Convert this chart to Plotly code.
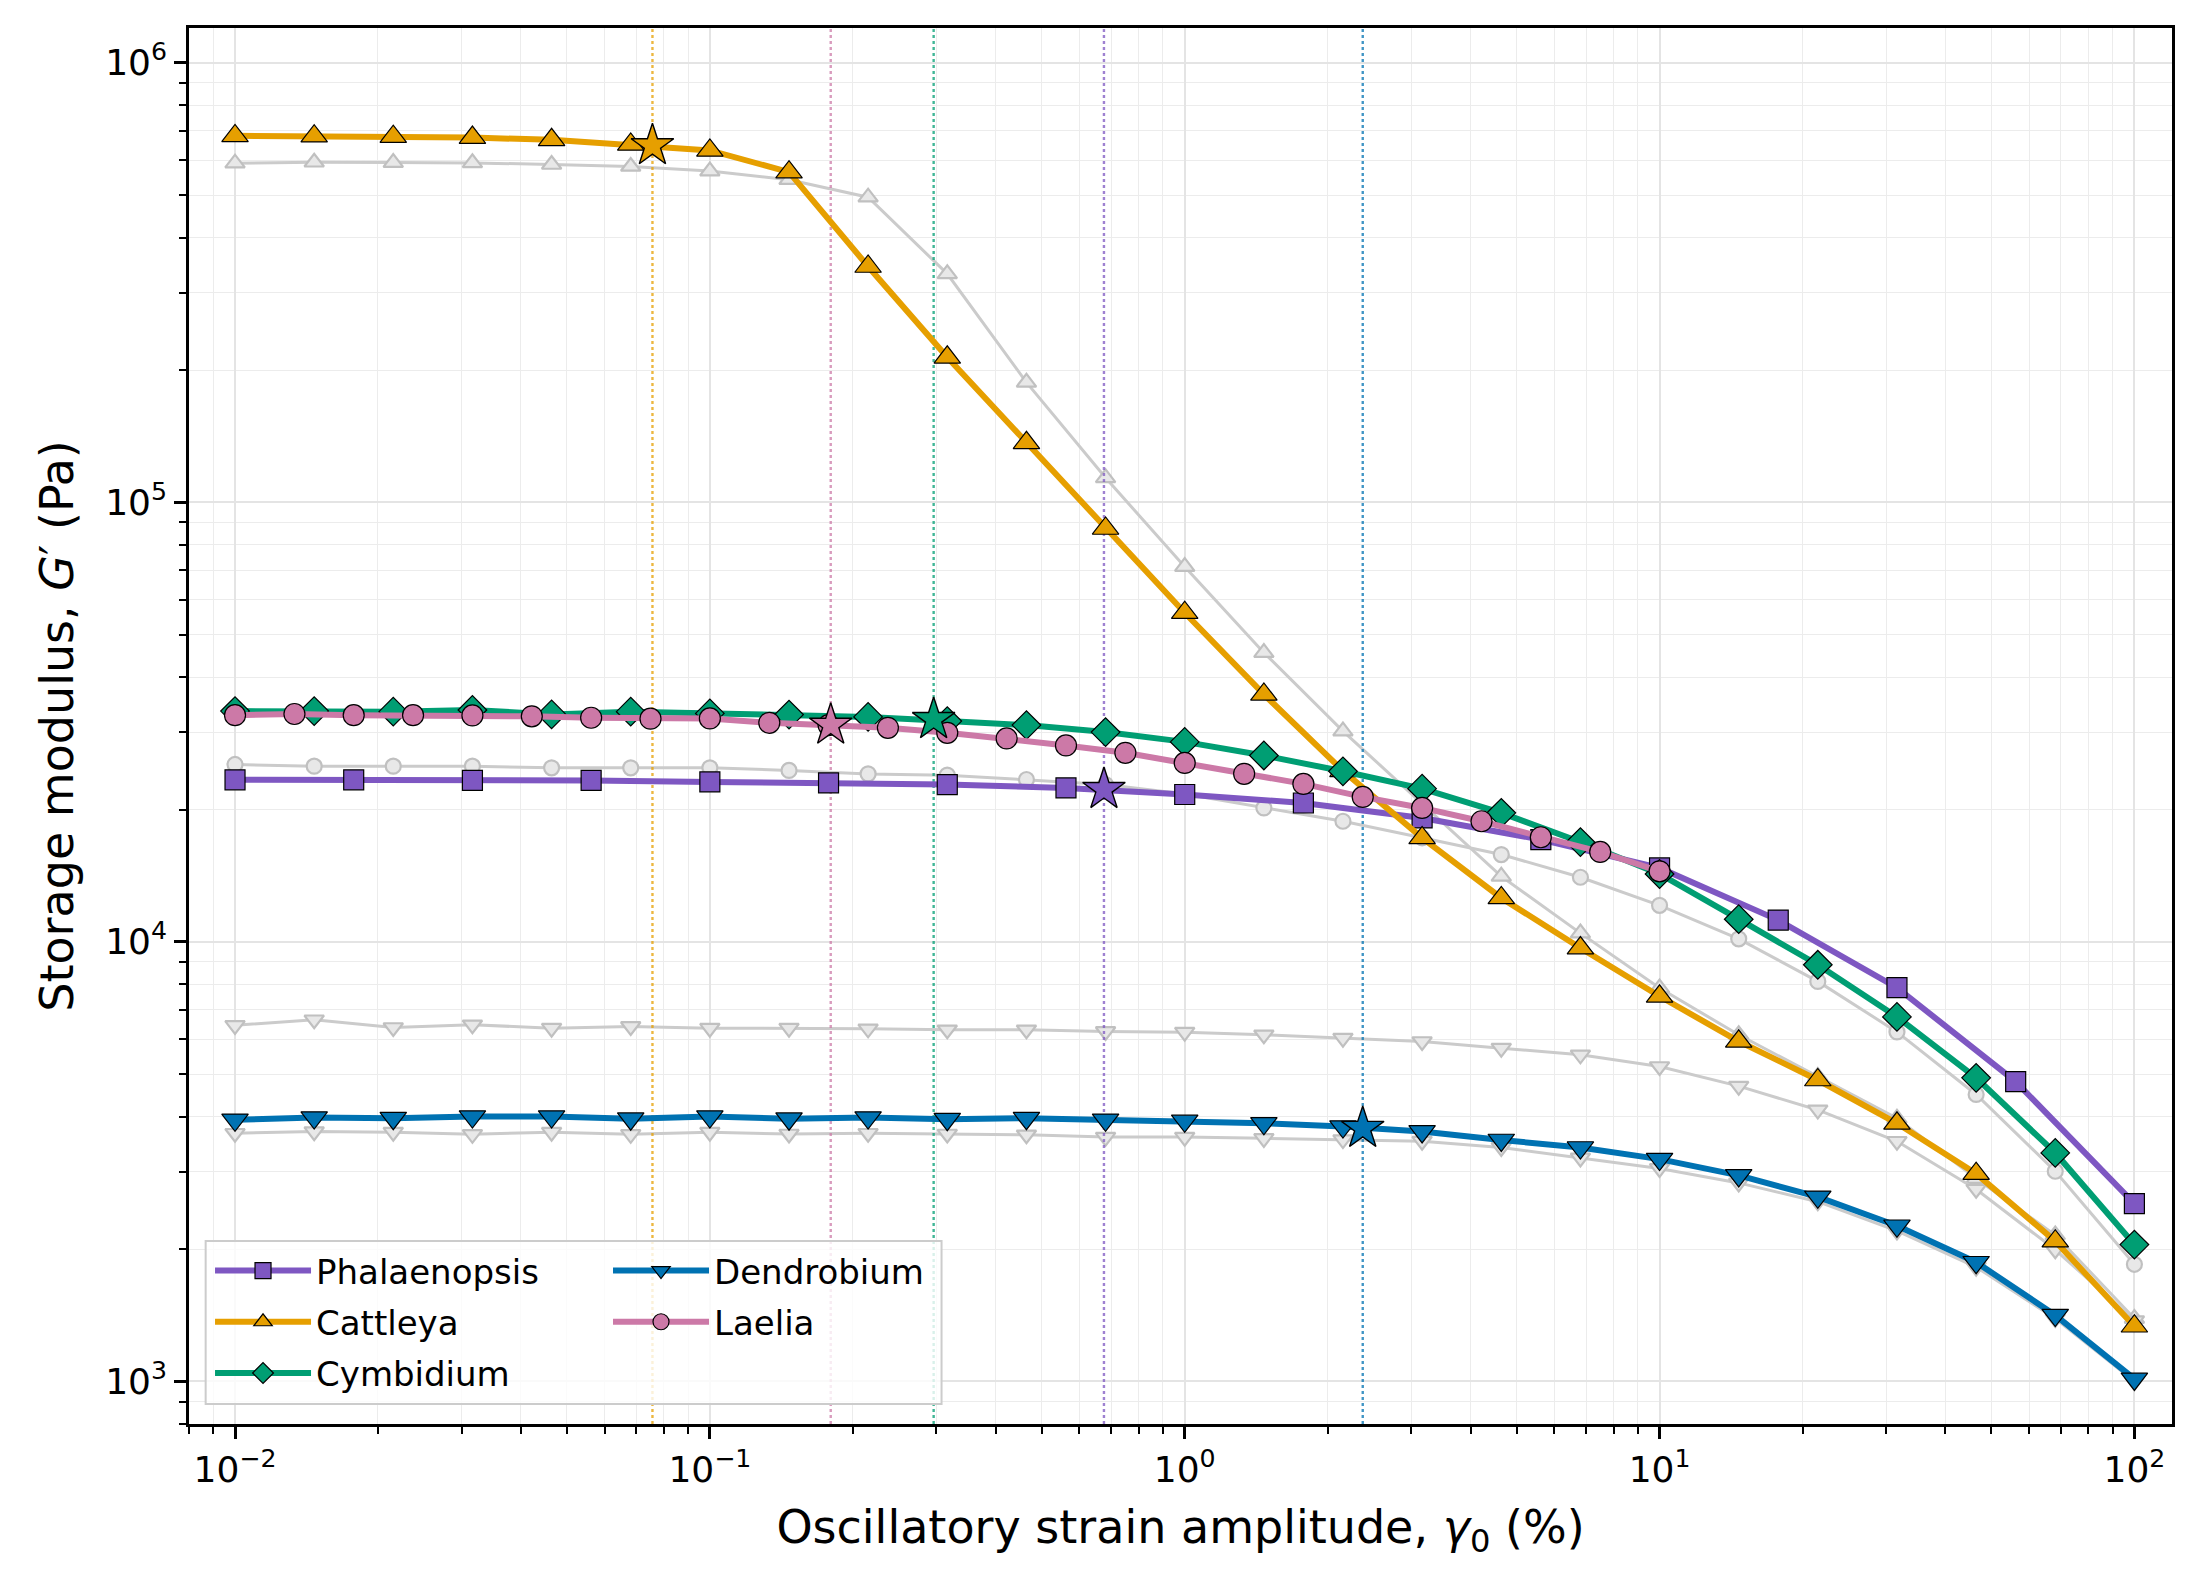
import math
import plotly.graph_objects as go

# ---------------- data ----------------
# strain amplitudes (%)
X_SIX = [0.01, 0.01468, 0.02154, 0.03162, 0.04642, 0.06813, 0.1, 0.1468, 0.2154, 0.3162,
         0.4642, 0.6813, 1.0, 1.468, 2.154, 3.162, 4.642, 6.813, 10.0, 14.68, 21.54,
         31.62, 46.42, 68.13, 100.0]
X_FOUR = [0.01, 0.01778, 0.03162, 0.05623, 0.1, 0.1778, 0.3162, 0.5623, 1.0, 1.778,
          3.162, 5.623, 10.0, 17.78, 31.62, 56.23, 100.0]
X_EIGHT = [0.01, 0.01334, 0.01778, 0.02371, 0.03162, 0.04217, 0.05623, 0.07499, 0.1,
           0.1334, 0.1778, 0.2371, 0.3162, 0.4217, 0.5623, 0.7499, 1.0, 1.334, 1.778,
           2.371, 3.162, 4.217, 5.623, 7.499, 10.0]

phalaenopsis = [23370, 23370, 23300, 23300, 23120, 23000, 22800, 22400, 21640, 20700,
                19140, 17090, 14730, 11210, 7866, 4810, 2537]
cattleya = [682000, 681000, 679000, 676000, 668000, 652000, 632000, 564000, 344000,
            213800, 136600, 87200, 56100, 36570, 24500, 17240, 12590, 9680, 7520,
            5940, 4850, 3866, 2970, 2085, 1335]
cymbidium = [33500, 33500, 33400, 33700, 32920, 33400, 33100, 32900, 32500, 31790,
             31130, 30010, 28510, 26550, 24440, 22310, 19660, 16870, 14270, 11260,
             8870, 6750, 4905, 3310, 2048]
dendrobium = [3936, 3983, 3970, 4004, 4004, 3960, 4004, 3960, 3983, 3950, 3970, 3936,
              3915, 3866, 3800, 3705, 3542, 3405, 3204, 2942, 2630, 2260, 1867, 1415, 1013]
laelia = [32800, 32990, 32800, 32800, 32750, 32600, 32350, 32200, 32240, 31500, 31130,
          30690, 29900, 29030, 27990, 26920, 25540, 24120, 22880, 21370, 20170, 18810,
          17300, 16020, 14470]

# grey reference curves
ref_tri_up = [591000, 594000, 593000, 592000, 587000, 581000, 567000, 542000, 494600,
              331000, 187500, 113700, 71400, 45500, 30170, 20600, 14090, 10470, 7850,
              6146, 4940, 3968, 2893, 2153, 1390]
ref_circle = [25330, 25100, 25100, 25100, 24890, 24890, 24890, 24550, 24110, 23950,
              23410, 22800, 21700, 20170, 18810, 17250, 15800, 14030, 12110, 10160,
              8130, 6240, 4496, 3007, 1847]
ref_tri_down_a = [6458, 6650, 6386, 6477, 6364, 6420, 6364, 6364, 6342, 6309, 6309, 6254,
                  6230, 6146, 6039, 5933, 5730, 5534, 5205, 4696, 4146, 3519, 2737, 1993, 1375]
ref_tri_down_b = [3669, 3701, 3690, 3649, 3690, 3649, 3690, 3655, 3669, 3655, 3640, 3596,
                  3596, 3573, 3550, 3520, 3407, 3225, 3052, 2829, 2564, 2200, 1820, 1390, 1000]

# critical strain (star) points
crit_names = ["Phalaenopsis", "Cattleya", "Cymbidium", "Dendrobium", "Laelia"]
crit_x = [0.676, 0.0757, 0.296, 2.371, 0.1797]
crit_y = [22220, 648000, 32060, 3765, 31130]

X_LIM = [0.008, 120]
Y_LIM = [800, 1.2e6]
X_TICKS = [0.01, 0.1, 1, 10, 100]
X_TICKTEXT = ["10<sup>\u22122</sup>", "10<sup>\u22121</sup>", "10<sup>0</sup>",
              "10<sup>1</sup>", "10<sup>2</sup>"]
Y_TICKS = [1e3, 1e4, 1e5, 1e6]
Y_TICKTEXT = ["10<sup>3</sup>", "10<sup>4</sup>", "10<sup>5</sup>", "10<sup>6</sup>"]

# ---------------- style ----------------
FONT = "DejaVu Sans"
COLORS = {"Phalaenopsis": "#7E57C2", "Cattleya": "#E69F00", "Cymbidium": "#009E73",
          "Dendrobium": "#0072B2", "Laelia": "#CC79A7"}
SYMBOLS = {"Phalaenopsis": ("square", 20), "Cattleya": ("triangle-up", 23),
           "Cymbidium": ("diamond", 22), "Dendrobium": ("triangle-down", 23),
           "Laelia": ("circle", 21)}
LEGEND_OF = {"Phalaenopsis": "legend", "Cattleya": "legend", "Cymbidium": "legend",
             "Dendrobium": "legend2", "Laelia": "legend2"}

def rgba(hexc, a):
    h = hexc.lstrip("#")
    return "rgba(%d,%d,%d,%.2f)" % (int(h[0:2], 16), int(h[2:4], 16), int(h[4:6], 16), a)

fig = go.Figure()

# grey reference curves (drawn first)
GREY_LINE = "#cbcbcb"
for xs, ys, sym, sz in [(X_SIX, ref_tri_up, "triangle-up", 17),
                        (X_SIX, ref_circle, "circle", 15),
                        (X_SIX, ref_tri_down_a, "triangle-down", 17),
                        (X_SIX, ref_tri_down_b, "triangle-down", 17)]:
    fig.add_trace(go.Scatter(
        x=xs, y=ys, mode="lines+markers", showlegend=False, hoverinfo="skip",
        line=dict(color=GREY_LINE, width=3),
        marker=dict(symbol=sym, size=sz, color="#e8e8e8",
                    line=dict(color="#c0c0c0", width=2.2))))

# vertical dotted lines at critical strain
for name, xc in zip(crit_names, crit_x):
    fig.add_trace(go.Scatter(
        x=[xc, xc], y=Y_LIM, mode="lines", showlegend=False, hoverinfo="skip",
        line=dict(color=rgba(COLORS[name], 0.75), width=2.4, dash="dot")))

# main series
series = [("Phalaenopsis", X_FOUR, phalaenopsis), ("Cattleya", X_SIX, cattleya),
          ("Cymbidium", X_SIX, cymbidium), ("Dendrobium", X_SIX, dendrobium),
          ("Laelia", X_EIGHT, laelia)]
for name, xs, ys in series:
    sym, sz = SYMBOLS[name]
    fig.add_trace(go.Scatter(
        x=xs, y=ys, mode="lines+markers", name=name, legend=LEGEND_OF[name],
        legendgroup=name,
        line=dict(color=COLORS[name], width=6),
        marker=dict(symbol=sym, size=sz, color=COLORS[name],
                    line=dict(color="black", width=1.2))))

# stars
for name, xc, yc in zip(crit_names, crit_x, crit_y):
    fig.add_trace(go.Scatter(
        x=[xc], y=[yc], mode="markers", showlegend=False,
        marker=dict(symbol="star", size=32, color=COLORS[name],
                    line=dict(color="black", width=1.4))))

minor_vals = [m * 10 ** e for e in range(-3, 7) for m in range(2, 10)]

axis_common = dict(
    type="log", showline=True, linecolor="black", linewidth=2.5, mirror=True,
    ticks="outside", ticklen=12, tickwidth=2.5, tickcolor="black",
    showgrid=True, gridcolor="#e4e4e4", gridwidth=1.6, zeroline=False,
    tickfont=dict(family=FONT, size=36, color="black"),
    minor=dict(ticks="outside", ticklen=7, tickwidth=2, tickcolor="black",
               showgrid=True, gridcolor="#ececec", gridwidth=1.4,
               tickvals=minor_vals),
)

legend_common = dict(y=0.1304, xanchor="left", yanchor="top",
                     bgcolor="rgba(0,0,0,0)", borderwidth=0, itemwidth=96,
                     traceorder="grouped", tracegroupgap=4,
                     font=dict(family=FONT, size=34, color="black"))

fig.update_layout(
    width=2200, height=1582,
    margin=dict(l=189, r=28, t=28, b=158, autoexpand=False),
    paper_bgcolor="white", plot_bgcolor="white",
    font=dict(family=FONT, color="black"),
    xaxis=dict(axis_common, range=[math.log10(X_LIM[0]), math.log10(X_LIM[1])],
               tickmode="array", tickvals=X_TICKS, ticktext=X_TICKTEXT,
               title=dict(text="Oscillatory strain amplitude, <i>\u03b3</i><sub>0</sub> (%)",
                          font=dict(family=FONT, size=46), standoff=22)),
    yaxis=dict(axis_common, range=[math.log10(Y_LIM[0]), math.log10(Y_LIM[1])],
               tickmode="array", tickvals=Y_TICKS, ticktext=Y_TICKTEXT,
               title=dict(text="Storage modulus, <i>G</i>\u2032 (Pa)",
                          font=dict(family=FONT, size=46), standoff=18)),
    legend=dict(legend_common, x=0.0106),
    legend2=dict(legend_common, x=0.2113),
    shapes=[dict(type="rect", xref="paper", yref="paper", x0=0.0084, x1=0.3795,
                 y0=0.0143, y1=0.131, fillcolor="rgba(255,255,255,0.8)",
                 line=dict(color="#cccccc", width=2), layer="above")],
)

fig.write_html("out.html")
